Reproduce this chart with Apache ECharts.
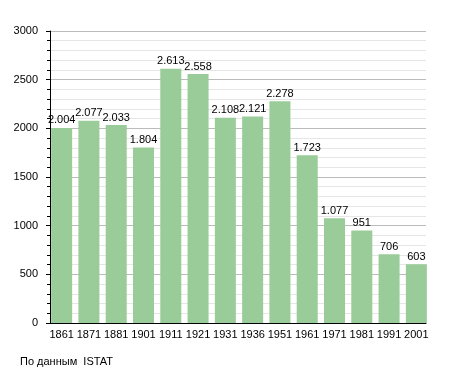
<!DOCTYPE html>
<html><head><meta charset="utf-8">
<script src="https://cdn.jsdelivr.net/npm/echarts@6/dist/echarts.min.js"></script>
<style>html,body{margin:0;padding:0;background:#fff}#c{width:455px;height:373px}</style>
</head><body><div id="c"></div>
<script>
const years = ['1861','1871','1881','1901','1911','1921','1931','1936','1951','1961','1971','1981','1991','2001'];
const population = [2004,2077,2033,1804,2613,2558,2108,2121,2278,1723,1077,951,706,603];
const yTicks = [0,500,1000,1500,2000,2500,3000];
const sourceNote = 'По данным  ISTAT';

const chart = echarts.init(document.getElementById('c'), null, {renderer:'canvas'});
const font = 'Liberation Sans, Arial, sans-serif';
const yMin = yTicks[0], yMax = yTicks[yTicks.length-1];
chart.setOption({
  animation:false,
  textStyle:{fontFamily:font},
  grid:[
    {left:48,right:25,top:31,bottom:50,containLabel:false},
    {left:50,right:29,top:31,bottom:50,containLabel:false}
  ],
  graphic:[{type:'text',left:20,top:356,style:{text:sourceNote,fontSize:11,fontFamily:font,fill:'#000'}}],
  xAxis:[
    {type:'category',data:years,gridIndex:0,
      axisLine:{show:false},axisTick:{show:false},
      axisLabel:{color:'#000',fontSize:11,fontFamily:font,margin:6,interval:0}},
    {type:'category',data:years,gridIndex:1,
      axisLine:{show:true,lineStyle:{color:'#000',width:1}},
      axisTick:{show:false},axisLabel:{show:false},splitLine:{show:false}}
  ],
  yAxis:[
    {type:'value',gridIndex:0,min:yMin,max:yMax,interval:500,show:false,splitLine:{show:false}},
    {type:'value',gridIndex:1,min:yMin,max:yMax,interval:500,
      axisLine:{show:true,lineStyle:{color:'#000'}},
      axisTick:{show:true,length:4,lineStyle:{color:'#000'}},
      minorTick:{show:true,splitNumber:5,length:3,lineStyle:{color:'#000'}},
      splitLine:{lineStyle:{color:'#bbbbbb'}},
      minorSplitLine:{show:true,lineStyle:{color:'#e6e6e6'}},
      axisLabel:{color:'#000',fontSize:11,fontFamily:font,margin:12,formatter:v=>String(v)}}
  ],
  series:[{type:'bar',xAxisIndex:0,yAxisIndex:0,data:population,barCategoryGap:'23%',
    itemStyle:{color:'#99cc99'},
    label:{show:true,position:'top',distance:2,color:'#000',fontSize:11,fontFamily:font,
      formatter:p=>p.value>=1000?Math.floor(p.value/1000)+'.'+String(p.value%1000).padStart(3,'0'):String(p.value)}}]
});
</script></body></html>
